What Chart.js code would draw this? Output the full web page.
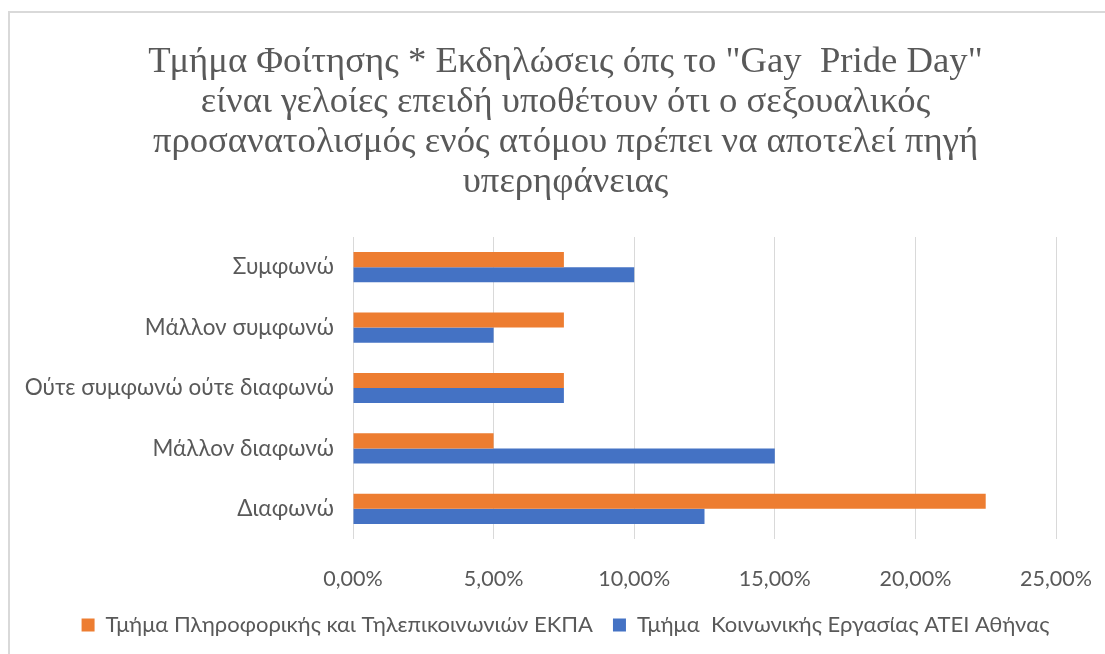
<!DOCTYPE html>
<html>
<head>
<meta charset="utf-8">
<script src="https://cdn.jsdelivr.net/npm/chart.js@4.4.1/dist/chart.umd.min.js"></script>
<style>
  html, body { margin: 0; padding: 0; background: #ffffff; overflow: hidden; }
  #frame { position: absolute; left: 8px; top: 11px; width: 1120px; height: 660px;
           border-left: 2px solid #d9d9d9; border-top: 2px solid #d9d9d9; }
  #wrap { position: absolute; left: 0; top: 0; width: 1119px; height: 654px; }
</style>
</head>
<body>
<div id="frame"></div>
<div id="wrap"><canvas id="c" width="1119" height="654"></canvas></div>
<script>
const titleLines = [
  'Τμήμα Φοίτησης * Εκδηλώσεις όπς το "Gay  Pride Day"',
  'είναι γελοίες επειδή υποθέτουν ότι ο σεξουαλικός',
  'προσανατολισμός ενός ατόμου πρέπει να αποτελεί πηγή',
  'υπερηφάνειας'
];
const categories = ['Συμφωνώ', 'Μάλλον συμφωνώ', 'Ούτε συμφωνώ ούτε διαφωνώ', 'Μάλλον διαφωνώ', 'Διαφωνώ'];
const seriesNames = ['Τμήμα Πληροφορικής και Τηλεπικοινωνιών ΕΚΠΑ', 'Τμήμα  Κοινωνικής Εργασίας ΑΤΕΙ Αθήνας'];
const ekpaValues = [7.5, 7.5, 7.5, 5, 22.5];
const ateiValues = [10, 5, 7.5, 15, 12.5];
const xTicks = [0, 5, 10, 15, 20, 25];

const textColor = '#595959';
const uiFont = 'Lato, "Liberation Sans", sans-serif';

new Chart(document.getElementById('c'), {
  type: 'bar',
  data: {
    labels: categories,
    datasets: [
      { label: seriesNames[0], data: ekpaValues, backgroundColor: '#ED7D31', borderWidth: 0 },
      { label: seriesNames[1], data: ateiValues, backgroundColor: '#4472C4', borderWidth: 0 }
    ]
  },
  options: {
    indexAxis: 'y',
    responsive: false,
    animation: false,
    devicePixelRatio: 1,
    datasets: { bar: { barPercentage: 1.0, categoryPercentage: 0.5 } },
    layout: { padding: { left: 20, right: 8, top: 0, bottom: 8 } },
    plugins: {
      tooltip: { enabled: false },
      title: {
        display: true,
        text: titleLines,
        color: textColor,
        font: { family: '"Liberation Serif", "DejaVu Serif", serif', size: 36.7, weight: 'normal', lineHeight: 40 / 36.7 },
        padding: { top: 42, bottom: 35 }
      },
      legend: {
        position: 'bottom',
        labels: {
          color: textColor,
          font: { family: uiFont, size: 22 },
          boxWidth: 13,
          boxHeight: 13,
          padding: 20
        }
      }
    },
    scales: {
      x: {
        min: 0,
        max: 25,
        afterBuildTicks: (scale) => { scale.ticks = xTicks.map(v => ({ value: v })); },
        afterFit: (scale) => { scale.height = 55; },
        grid: { color: '#d9d9d9', lineWidth: 1, drawTicks: false },
        border: { display: false },
        ticks: {
          color: textColor,
          font: { family: uiFont, size: 21.5 },
          padding: 27,
          callback: (v) => Number(v).toFixed(2).replace('.', ',') + '%'
        }
      },
      y: {
        afterFit: (scale) => { scale.width = 333; },
        grid: { display: false, drawTicks: false },
        border: { display: false },
        ticks: {
          color: textColor,
          font: { family: uiFont, size: 22.5 },
          padding: 19
        }
      }
    }
  }
});
</script>
</body>
</html>
